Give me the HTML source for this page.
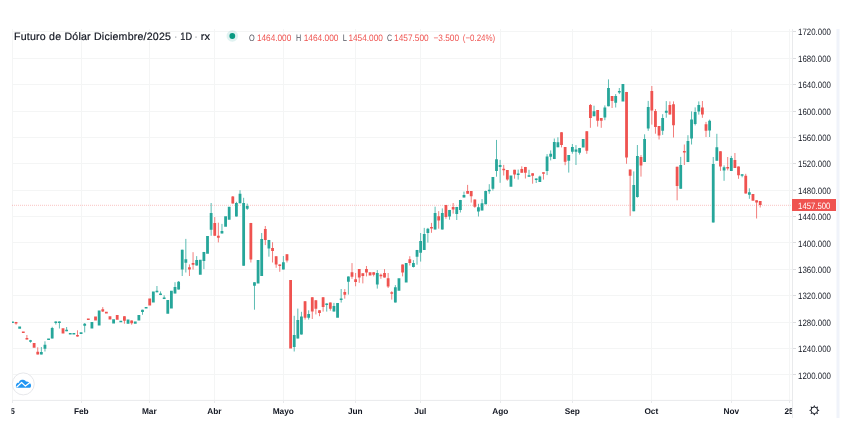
<!DOCTYPE html>
<html><head><meta charset="utf-8"><style>
html,body{margin:0;padding:0;background:#fff;width:854px;height:431px;overflow:hidden;position:relative;-webkit-font-smoothing:antialiased}
svg text{font-family:"Liberation Sans",sans-serif;text-rendering:geometricPrecision}
svg,.hdr{will-change:transform}
.pl{font-size:9.2px;fill:#131722}
.tl{font-size:8.3px;font-weight:bold;fill:#131722}
.hdr{position:absolute;font-family:"Liberation Sans",sans-serif;white-space:nowrap;color:#131722;line-height:1}
.tt{font-size:10.6px;fill:#131722;stroke:#131722;stroke-width:0.2px} .td{font-size:10.6px;fill:#9598a1} .ok{font-size:10px;fill:#50535e} .ov{font-size:10px;fill:#ef5350}
</style></head><body>
<svg width="854" height="431" viewBox="0 0 854 431" style="position:absolute;left:0;top:0"><defs><clipPath id="clip"><rect x="12" y="29" width="780" height="371"/></clipPath><clipPath id="tclip"><rect x="11.5" y="401" width="780.5" height="20"/></clipPath></defs><path d="M81.5 29V400 M149.5 29V400 M214.5 29V400 M283.5 29V400 M355.5 29V400 M420.5 29V400 M500.5 29V400 M572.5 29V400 M651.5 29V400 M731.5 29V400 M789.5 29V400 M12 374.5H792 M12 348.5H792 M12 322.5H792 M12 295.5H792 M12 269.5H792 M12 242.5H792 M12 216.5H792 M12 190.5H792 M12 163.5H792 M12 137.5H792 M12 111.5H792 M12 84.5H792 M12 58.5H792 M12 31.5H792" stroke="#f4f5f5" stroke-width="1" fill="none"/><path d="M12.5 29V400" stroke="#f4f5f5" stroke-width="1"/><path d="M12 205.3H792" stroke="#ef5350" stroke-width="1" stroke-dasharray="1 1" opacity="0.35"/><g clip-path="url(#clip)"><path d="M30.51 339.9V342.7M41.35 347.0V354.4M44.96 341.3V351.5M52.19 326.8V338.4M55.80 321.4V324.5M59.41 321.4V328.5M66.63 327.0V331.2M84.70 323.0V332.4M142.49 309.7V314.8M156.94 286.0V292.4M160.55 291.4V295.1M164.17 295.3V299.1M175.00 282.2V293.4M178.62 281.0V289.6M182.23 249.7V276.0M185.84 238.9V272.5M196.68 256.1V265.6M203.90 251.9V269.1M211.13 203.0V235.8M221.96 223.9V233.4M236.41 201.8V216.5M240.02 190.2V203.3M243.64 197.8V265.7M247.25 203.6V209.9M254.47 282.2V309.7M261.70 233.0V275.9M268.92 239.9V256.7M283.37 256.0V269.5M294.21 315.8V351.5M297.82 308.6V338.5M301.43 311.8V334.6M308.66 310.3V319.6M326.72 303.3V311.6M333.94 302.9V311.6M341.17 289.0V302.6M348.39 276.4V294.6M377.29 270.1V288.6M395.35 285.1V302.5M413.42 260.1V267.5M417.03 249.9V264.7M420.64 233.0V261.6M424.25 227.9V249.9M427.86 227.9V242.6M435.09 206.7V229.5M442.31 208.4V229.5M449.54 209.9V219.7M456.76 206.9V220.0M460.38 199.9V212.5M463.99 191.6V197.4M478.44 203.8V216.5M482.05 199.1V210.4M485.66 190.6V204.3M489.27 184.2V193.8M492.89 177.0V190.6M496.50 139.9V176.7M500.11 159.9V182.8M518.17 169.6V179.6M529.01 169.8V176.7M536.23 178.4V183.0M539.85 175.6V182.0M547.07 154.1V175.1M550.68 150.4V160.4M554.30 138.5V159.1M557.91 137.3V147.3M568.74 155.1V172.6M572.36 144.0V153.7M575.97 145.1V165.0M579.58 147.9V154.6M594.03 105.7V116.2M604.87 105.4V120.2M608.48 79.4V106.3M615.70 94.1V107.5M619.32 88.0V94.1M633.77 171.4V211.3M637.38 145.0V197.7M644.60 134.3V161.9M648.21 100.9V130.8M662.66 114.2V134.9M666.28 101.1V117.7M680.73 156.9V188.8M687.95 135.2V162.1M691.56 111.4V144.5M695.17 107.4V125.4M698.79 101.4V114.6M709.62 119.6V137.0M713.24 157.0V222.5M716.85 133.8V160.7M724.07 165.4V180.8M731.30 155.9V170.9M742.13 174.2V177.3M749.36 188.3V198.8" stroke="#26a69a" stroke-width="0.75" fill="none"/><path d="M16.06 321.9V324.7M26.90 335.0V339.6M37.74 347.3V354.4M77.47 330.3V336.7M102.76 307.1V312.0M124.43 316.2V323.7M131.66 320.4V324.7M189.45 264.4V276.0M193.06 252.2V269.6M214.74 217.1V235.8M218.35 222.7V242.4M232.80 196.0V203.6M250.86 222.9V262.5M265.31 226.0V245.1M272.54 242.2V262.5M276.15 256.2V267.8M279.76 264.3V271.8M286.98 254.2V262.5M305.05 301.2V319.6M312.27 297.2V319.0M315.88 300.2V314.4M319.50 310.2V316.2M323.11 297.2V311.6M330.33 302.5V310.7M344.78 289.1V298.7M352.01 263.1V278.8M355.62 273.0V286.3M359.23 269.1V282.8M362.84 273.3V283.4M366.46 266.0V276.4M373.68 272.2V276.4M380.90 273.6V278.8M384.52 269.1V277.6M388.13 273.0V288.0M391.74 291.2V299.6M402.58 264.5V276.4M409.80 256.2V265.5M431.48 222.9V232.8M438.70 211.1V228.7M445.93 204.9V218.8M453.15 203.0V213.6M467.60 184.9V193.7M471.21 191.0V202.6M474.82 199.5V207.8M503.72 164.9V175.5M507.34 170.0V180.7M514.56 169.8V178.7M521.78 166.3V172.7M525.40 166.9V178.5M532.62 173.3V183.7M543.46 172.3V179.6M561.52 132.2V147.4M565.13 147.0V165.2M586.81 131.2V153.8M590.42 104.0V127.8M597.64 110.0V126.6M601.25 118.1V127.8M612.09 96.1V108.0M626.54 91.9V163.8M630.15 169.6V215.9M640.99 155.1V176.6M651.83 86.0V124.6M655.44 109.0V133.7M659.05 126.1V139.5M669.89 101.4V114.6M673.50 101.4V137.5M677.11 166.7V200.3M684.34 144.5V165.0M702.40 101.0V117.8M706.01 121.9V137.0M720.46 151.2V170.9M727.69 157.0V170.4M734.91 153.0V168.0M738.52 166.5V178.8M745.75 173.8V193.6M756.58 200.3V218.5M760.20 201.1V207.5" stroke="#ef5350" stroke-width="0.75" fill="none"/><path d="M11.05 321.5h2.8V323.0h-2.8ZM18.27 326.5h2.8V328.7h-2.8ZM29.11 340.2h2.8V341.8h-2.8ZM39.95 352.0h2.8V354.4h-2.8ZM43.56 344.8h2.8V348.8h-2.8ZM47.17 338.6h2.8V340.1h-2.8ZM50.79 328.0h2.8V338.4h-2.8ZM54.40 321.4h2.8V322.9h-2.8ZM58.01 321.4h2.8V322.9h-2.8ZM65.23 329.8h2.8V331.2h-2.8ZM68.85 332.9h2.8V334.4h-2.8ZM72.46 332.9h2.8V334.4h-2.8ZM79.68 332.2h2.8V334.0h-2.8ZM83.30 323.7h2.8V325.8h-2.8ZM90.52 322.1h2.8V328.6h-2.8ZM97.75 310.4h2.8V325.6h-2.8ZM112.19 319.2h2.8V323.5h-2.8ZM119.42 320.8h2.8V322.3h-2.8ZM126.64 319.5h2.8V323.7h-2.8ZM133.87 321.4h2.8V323.7h-2.8ZM137.48 315.1h2.8V320.4h-2.8ZM141.09 309.7h2.8V312.0h-2.8ZM144.71 306.9h2.8V308.5h-2.8ZM151.93 291.4h2.8V302.5h-2.8ZM155.54 290.8h2.8V292.3h-2.8ZM159.15 293.6h2.8V295.1h-2.8ZM162.77 297.6h2.8V299.1h-2.8ZM166.38 299.9h2.8V313.8h-2.8ZM169.99 290.7h2.8V308.6h-2.8ZM173.60 286.9h2.8V293.4h-2.8ZM177.22 281.8h2.8V289.6h-2.8ZM180.83 249.7h2.8V269.6h-2.8ZM184.44 259.2h2.8V262.7h-2.8ZM195.28 260.1h2.8V265.6h-2.8ZM198.89 259.8h2.8V274.7h-2.8ZM202.50 251.9h2.8V261.0h-2.8ZM206.11 236.0h2.8V253.8h-2.8ZM209.73 212.9h2.8V229.7h-2.8ZM220.56 231.1h2.8V233.4h-2.8ZM224.18 216.2h2.8V226.8h-2.8ZM227.79 206.8h2.8V219.8h-2.8ZM235.01 203.0h2.8V216.5h-2.8ZM238.62 193.7h2.8V203.3h-2.8ZM242.24 203.0h2.8V265.7h-2.8ZM245.85 205.9h2.8V208.8h-2.8ZM253.07 282.2h2.8V285.7h-2.8ZM256.69 259.9h2.8V283.4h-2.8ZM260.30 239.1h2.8V275.9h-2.8ZM267.52 239.9h2.8V248.6h-2.8ZM281.97 262.2h2.8V269.5h-2.8ZM292.81 334.9h2.8V346.9h-2.8ZM296.42 320.0h2.8V338.5h-2.8ZM300.03 316.4h2.8V334.6h-2.8ZM307.26 314.1h2.8V317.8h-2.8ZM325.32 303.6h2.8V305.1h-2.8ZM332.54 306.1h2.8V311.6h-2.8ZM336.16 302.9h2.8V317.7h-2.8ZM339.77 298.5h2.8V300.0h-2.8ZM346.99 276.4h2.8V281.7h-2.8ZM375.89 273.0h2.8V284.6h-2.8ZM393.95 287.2h2.8V302.5h-2.8ZM397.57 278.2h2.8V290.7h-2.8ZM404.79 263.1h2.8V282.6h-2.8ZM412.02 263.1h2.8V267.0h-2.8ZM415.63 249.9h2.8V256.8h-2.8ZM419.24 241.1h2.8V252.7h-2.8ZM422.85 233.9h2.8V249.9h-2.8ZM426.46 228.7h2.8V233.0h-2.8ZM433.69 213.0h2.8V229.5h-2.8ZM440.91 213.0h2.8V229.5h-2.8ZM448.14 209.9h2.8V216.5h-2.8ZM455.36 206.9h2.8V213.9h-2.8ZM458.98 199.9h2.8V209.9h-2.8ZM462.59 195.0h2.8V197.4h-2.8ZM477.04 207.2h2.8V211.5h-2.8ZM480.65 203.2h2.8V210.4h-2.8ZM484.26 191.0h2.8V204.3h-2.8ZM487.87 189.7h2.8V191.2h-2.8ZM491.49 177.0h2.8V188.8h-2.8ZM495.10 159.3h2.8V170.9h-2.8ZM498.71 164.9h2.8V166.9h-2.8ZM509.55 175.5h2.8V186.8h-2.8ZM516.77 173.5h2.8V175.0h-2.8ZM527.61 175.2h2.8V176.7h-2.8ZM534.83 178.4h2.8V179.9h-2.8ZM538.45 176.5h2.8V182.0h-2.8ZM545.67 156.4h2.8V170.9h-2.8ZM549.28 153.8h2.8V156.7h-2.8ZM552.90 142.0h2.8V159.1h-2.8ZM556.51 142.2h2.8V147.3h-2.8ZM567.34 155.1h2.8V160.7h-2.8ZM570.96 147.0h2.8V151.8h-2.8ZM574.57 149.4h2.8V151.7h-2.8ZM578.18 147.9h2.8V152.8h-2.8ZM581.79 139.1h2.8V147.6h-2.8ZM592.63 111.2h2.8V116.2h-2.8ZM603.47 107.5h2.8V117.6h-2.8ZM607.08 88.0h2.8V106.3h-2.8ZM614.30 95.9h2.8V102.8h-2.8ZM617.92 91.1h2.8V92.6h-2.8ZM621.53 84.0h2.8V101.6h-2.8ZM632.37 184.9h2.8V211.3h-2.8ZM635.98 156.1h2.8V196.9h-2.8ZM643.20 138.9h2.8V161.9h-2.8ZM646.81 106.9h2.8V128.6h-2.8ZM661.26 118.0h2.8V130.8h-2.8ZM664.88 110.7h2.8V112.7h-2.8ZM679.33 165.0h2.8V188.8h-2.8ZM686.55 141.0h2.8V162.1h-2.8ZM690.16 119.6h2.8V138.4h-2.8ZM693.77 112.0h2.8V123.9h-2.8ZM697.39 105.1h2.8V111.4h-2.8ZM708.22 120.7h2.8V130.6h-2.8ZM711.84 164.0h2.8V222.5h-2.8ZM715.45 147.2h2.8V160.7h-2.8ZM722.67 167.2h2.8V170.4h-2.8ZM729.90 158.0h2.8V170.9h-2.8ZM740.73 174.2h2.8V175.8h-2.8ZM747.96 192.2h2.8V194.7h-2.8Z" fill="#26a69a"/><path d="M14.66 321.9h2.8V323.4h-2.8ZM21.89 331.6h2.8V333.1h-2.8ZM25.50 337.9h2.8V339.6h-2.8ZM32.72 343.0h2.8V347.7h-2.8ZM36.34 351.7h2.8V354.4h-2.8ZM61.62 328.3h2.8V333.5h-2.8ZM76.07 335.0h2.8V336.5h-2.8ZM86.91 318.6h2.8V320.1h-2.8ZM94.13 316.5h2.8V320.5h-2.8ZM101.36 309.2h2.8V311.4h-2.8ZM104.97 311.8h2.8V313.6h-2.8ZM108.58 316.2h2.8V319.5h-2.8ZM115.81 315.1h2.8V319.8h-2.8ZM123.03 316.2h2.8V320.7h-2.8ZM130.26 320.4h2.8V323.3h-2.8ZM148.32 298.4h2.8V305.5h-2.8ZM188.05 267.3h2.8V269.6h-2.8ZM191.66 263.0h2.8V264.7h-2.8ZM213.34 223.0h2.8V235.8h-2.8ZM216.95 235.8h2.8V237.8h-2.8ZM231.40 196.4h2.8V203.6h-2.8ZM249.46 222.9h2.8V259.6h-2.8ZM263.91 228.9h2.8V239.9h-2.8ZM271.14 248.0h2.8V250.9h-2.8ZM274.75 256.2h2.8V264.5h-2.8ZM278.36 264.4h2.8V265.9h-2.8ZM285.58 254.2h2.8V260.4h-2.8ZM289.20 280.0h2.8V348.5h-2.8ZM303.65 301.2h2.8V317.8h-2.8ZM310.87 297.2h2.8V311.4h-2.8ZM314.48 300.2h2.8V308.7h-2.8ZM318.10 310.2h2.8V313.0h-2.8ZM321.71 297.2h2.8V307.0h-2.8ZM328.93 302.5h2.8V308.7h-2.8ZM343.38 292.1h2.8V294.8h-2.8ZM350.61 272.2h2.8V276.8h-2.8ZM354.22 279.3h2.8V281.9h-2.8ZM357.83 269.1h2.8V277.6h-2.8ZM361.44 273.3h2.8V275.9h-2.8ZM365.06 269.1h2.8V272.4h-2.8ZM368.67 272.2h2.8V275.6h-2.8ZM372.28 272.2h2.8V274.7h-2.8ZM379.50 274.8h2.8V276.3h-2.8ZM383.12 273.0h2.8V277.6h-2.8ZM386.73 278.2h2.8V286.5h-2.8ZM390.34 292.3h2.8V293.8h-2.8ZM401.18 264.5h2.8V272.6h-2.8ZM408.40 259.2h2.8V262.9h-2.8ZM430.08 227.0h2.8V228.5h-2.8ZM437.30 216.2h2.8V220.6h-2.8ZM444.53 204.9h2.8V216.9h-2.8ZM451.75 206.9h2.8V209.6h-2.8ZM466.20 191.0h2.8V193.7h-2.8ZM469.81 191.0h2.8V196.2h-2.8ZM473.42 199.5h2.8V206.7h-2.8ZM502.32 168.8h2.8V170.2h-2.8ZM505.94 170.0h2.8V179.6h-2.8ZM513.16 169.8h2.8V174.6h-2.8ZM520.38 168.9h2.8V172.7h-2.8ZM524.00 166.9h2.8V172.7h-2.8ZM531.22 173.3h2.8V175.8h-2.8ZM542.06 172.3h2.8V173.8h-2.8ZM560.12 132.2h2.8V144.9h-2.8ZM563.73 147.0h2.8V161.8h-2.8ZM585.41 131.2h2.8V150.8h-2.8ZM589.02 104.9h2.8V117.9h-2.8ZM596.24 110.0h2.8V120.8h-2.8ZM599.85 118.1h2.8V120.8h-2.8ZM610.69 96.1h2.8V101.1h-2.8ZM625.14 91.9h2.8V157.5h-2.8ZM628.75 169.6h2.8V175.7h-2.8ZM639.59 156.9h2.8V165.6h-2.8ZM650.43 91.0h2.8V110.4h-2.8ZM654.04 111.1h2.8V127.0h-2.8ZM657.65 126.1h2.8V135.4h-2.8ZM668.49 104.9h2.8V114.6h-2.8ZM672.10 104.3h2.8V125.2h-2.8ZM675.71 166.7h2.8V185.9h-2.8ZM682.94 150.9h2.8V152.4h-2.8ZM701.00 107.6h2.8V114.6h-2.8ZM704.61 124.2h2.8V130.8h-2.8ZM719.06 151.2h2.8V166.5h-2.8ZM726.29 167.1h2.8V168.6h-2.8ZM733.51 159.9h2.8V168.0h-2.8ZM737.12 166.5h2.8V175.3h-2.8ZM744.35 175.8h2.8V193.6h-2.8ZM751.57 194.1h2.8V200.7h-2.8ZM755.18 200.3h2.8V202.6h-2.8ZM758.80 201.1h2.8V205.1h-2.8Z" fill="#ef5350"/></g><path d="M792.5 29V418" stroke="#e9eaec" stroke-width="1"/><path d="M12 400.4H792.5" stroke="#e9eaec" stroke-width="1"/><path d="M12.5 400.5V403M81.5 400.5V403M149.5 400.5V403M214.5 400.5V403M283.5 400.5V403M355.5 400.5V403M420.5 400.5V403M500.5 400.5V403M572.5 400.5V403M651.5 400.5V403M731.5 400.5V403M789.5 400.5V403" stroke="#e9eaec" stroke-width="1"/><rect x="836.5" y="29" width="3" height="389" fill="#f0f3fa"/><path d="M793 374.5h3M793 348.5h3M793 322.5h3M793 295.5h3M793 269.5h3M793 242.5h3M793 216.5h3M793 190.5h3M793 163.5h3M793 137.5h3M793 111.5h3M793 84.5h3M793 58.5h3M793 31.5h3" stroke="#dcdde0" stroke-width="1"/><text x="798.1" y="378.5" class="pl" textLength="32.8" lengthAdjust="spacingAndGlyphs">1200.000</text><text x="798.1" y="352.1" class="pl" textLength="32.8" lengthAdjust="spacingAndGlyphs">1240.000</text><text x="798.1" y="325.7" class="pl" textLength="32.8" lengthAdjust="spacingAndGlyphs">1280.000</text><text x="798.1" y="299.3" class="pl" textLength="32.8" lengthAdjust="spacingAndGlyphs">1320.000</text><text x="798.1" y="272.9" class="pl" textLength="32.8" lengthAdjust="spacingAndGlyphs">1360.000</text><text x="798.1" y="246.5" class="pl" textLength="32.8" lengthAdjust="spacingAndGlyphs">1400.000</text><text x="798.1" y="220.2" class="pl" textLength="32.8" lengthAdjust="spacingAndGlyphs">1440.000</text><text x="798.1" y="193.8" class="pl" textLength="32.8" lengthAdjust="spacingAndGlyphs">1480.000</text><text x="798.1" y="167.4" class="pl" textLength="32.8" lengthAdjust="spacingAndGlyphs">1520.000</text><text x="798.1" y="141.0" class="pl" textLength="32.8" lengthAdjust="spacingAndGlyphs">1560.000</text><text x="798.1" y="114.6" class="pl" textLength="32.8" lengthAdjust="spacingAndGlyphs">1600.000</text><text x="798.1" y="88.2" class="pl" textLength="32.8" lengthAdjust="spacingAndGlyphs">1640.000</text><text x="798.1" y="61.8" class="pl" textLength="32.8" lengthAdjust="spacingAndGlyphs">1680.000</text><text x="798.1" y="35.4" class="pl" textLength="32.8" lengthAdjust="spacingAndGlyphs">1720.000</text><rect x="792" y="199" width="44" height="12" fill="#ef5350"/><text x="798.1" y="208.6" class="pl" style="fill:#fff" textLength="32.3" lengthAdjust="spacingAndGlyphs">1457.500</text><text x="81.3" y="413.7" class="tl" text-anchor="middle">Feb</text><text x="149.3" y="413.7" class="tl" text-anchor="middle">Mar</text><text x="214.3" y="413.7" class="tl" text-anchor="middle">Abr</text><text x="283.3" y="413.7" class="tl" text-anchor="middle">Mayo</text><text x="355.3" y="413.7" class="tl" text-anchor="middle">Jun</text><text x="420.3" y="413.7" class="tl" text-anchor="middle">Jul</text><text x="500.3" y="413.7" class="tl" text-anchor="middle">Ago</text><text x="572.3" y="413.7" class="tl" text-anchor="middle">Sep</text><text x="651.3" y="413.7" class="tl" text-anchor="middle">Oct</text><text x="731.3" y="413.7" class="tl" text-anchor="middle">Nov</text><g clip-path="url(#tclip)"><text x="5.6" y="413.7" class="tl" text-anchor="middle">2025</text><text x="789" y="413.7" class="tl" text-anchor="middle">25</text></g><g transform="translate(814.3 410.3)"><circle r="3.3" fill="none" stroke="#131722" stroke-width="1"/><path d="M-0.9 -3.6L0 -5.2L0.9 -3.6Z" fill="#131722" transform="rotate(0)"/><path d="M-0.9 -3.6L0 -5.2L0.9 -3.6Z" fill="#131722" transform="rotate(45)"/><path d="M-0.9 -3.6L0 -5.2L0.9 -3.6Z" fill="#131722" transform="rotate(90)"/><path d="M-0.9 -3.6L0 -5.2L0.9 -3.6Z" fill="#131722" transform="rotate(135)"/><path d="M-0.9 -3.6L0 -5.2L0.9 -3.6Z" fill="#131722" transform="rotate(180)"/><path d="M-0.9 -3.6L0 -5.2L0.9 -3.6Z" fill="#131722" transform="rotate(225)"/><path d="M-0.9 -3.6L0 -5.2L0.9 -3.6Z" fill="#131722" transform="rotate(270)"/><path d="M-0.9 -3.6L0 -5.2L0.9 -3.6Z" fill="#131722" transform="rotate(315)"/></g><circle cx="23.25" cy="383.9" r="11" fill="#fff" stroke="#e6e7ea" stroke-width="1"/><path d="M16.9 387.7C16 387.7 15.8 386.6 15.9 385.8C16 384.6 16.6 383 17.6 382.8C18.2 382.7 18.7 382.7 19 382.8C19.2 381.2 20.2 379.8 22.1 379.8C23.6 379.8 24.7 380 25.2 380.5C25.6 381 25.9 381.4 26.2 381.6C27.2 381.5 28.3 381.8 29.2 382.5C30.5 383.3 31.1 384.4 31.05 385.6C31 386.9 30.6 387.7 30 387.7Z" fill="#2196f3"/><path d="M16.6 387.2L21.6 382.5L25.4 386.1L29.3 383L31.2 381.6" stroke="#fff" stroke-width="1.25" fill="none" stroke-linejoin="round"/><circle cx="232.3" cy="36" r="5.8" fill="#26a69a" opacity="0.14"/><circle cx="232.3" cy="36" r="2.9" fill="#089981"/><text x="14.0" y="39.8" class="tt" textLength="157.0" lengthAdjust="spacing">Futuro de Dólar Diciembre/2025</text><text x="175.7" y="39.8" class="td" text-anchor="middle">·</text><text x="196" y="39.8" class="td" text-anchor="middle">·</text><text x="180.3" y="39.8" class="tt" textLength="11.8" lengthAdjust="spacingAndGlyphs">1D</text><text x="200.8" y="39.8" class="tt" textLength="9.2" lengthAdjust="spacingAndGlyphs">rx</text><text transform="translate(249.1 40.9) scale(1 0.93)" class="ok" textLength="5.7" lengthAdjust="spacingAndGlyphs">O</text><text transform="translate(256.9 40.9) scale(1 0.93)" class="ov" textLength="34.4" lengthAdjust="spacingAndGlyphs">1464.000</text><text transform="translate(296.0 40.9) scale(1 0.93)" class="ok" textLength="5.2" lengthAdjust="spacingAndGlyphs">H</text><text transform="translate(303.7 40.9) scale(1 0.93)" class="ov" textLength="34.8" lengthAdjust="spacingAndGlyphs">1464.000</text><text transform="translate(342.8 40.9) scale(1 0.93)" class="ok" textLength="4.2" lengthAdjust="spacingAndGlyphs">L</text><text transform="translate(348.4 40.9) scale(1 0.93)" class="ov" textLength="34.5" lengthAdjust="spacingAndGlyphs">1454.000</text><text transform="translate(387.1 40.9) scale(1 0.93)" class="ok" textLength="5.1" lengthAdjust="spacingAndGlyphs">C</text><text transform="translate(394.1 40.9) scale(1 0.93)" class="ov" textLength="34.5" lengthAdjust="spacingAndGlyphs">1457.500</text><text transform="translate(433.5 40.9) scale(1 0.93)" class="ov" textLength="25.5" lengthAdjust="spacingAndGlyphs">−3.500</text><text transform="translate(462.8 40.9) scale(1 0.93)" class="ov" textLength="32.4" lengthAdjust="spacingAndGlyphs">(−0.24%)</text></svg>
</body></html>
